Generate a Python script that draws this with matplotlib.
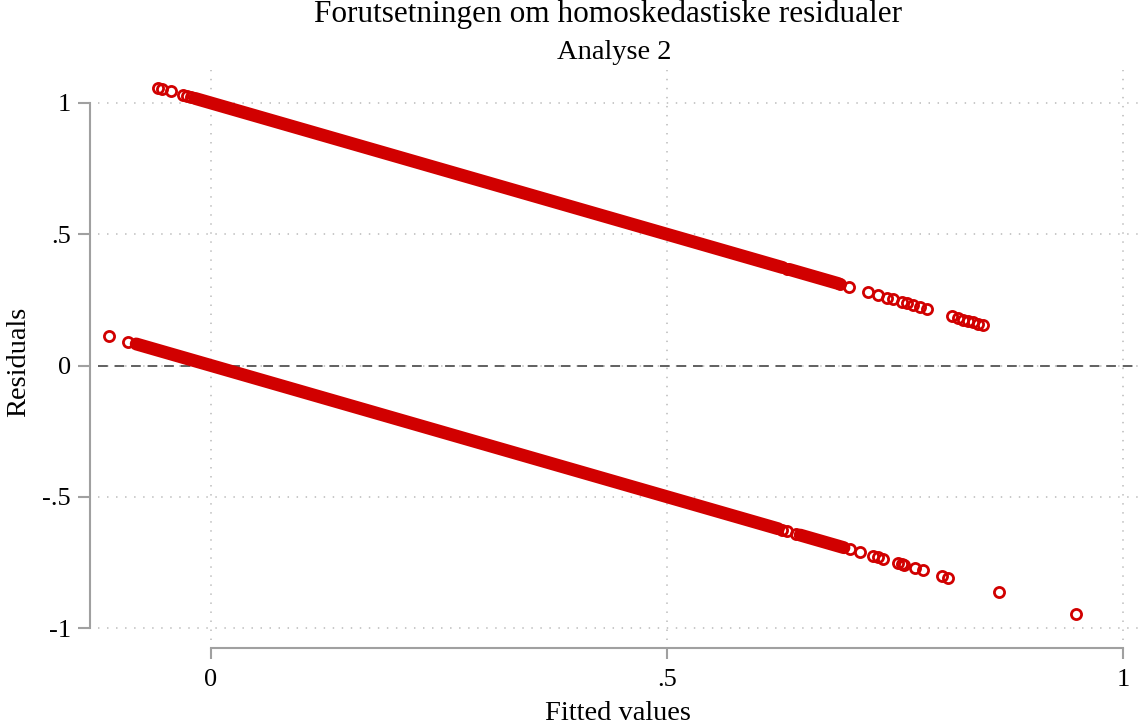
import matplotlib
matplotlib.use("Agg")
import matplotlib.pyplot as plt

plt.rcParams['font.family'] = ['Liberation Serif', 'DejaVu Serif']

# Fitted values for observations with outcome = 1 (residual = 1 - fitted)
ones_points = [-0.058, -0.054, -0.044, -0.031, -0.026, -0.022,
               0.632, 0.690, 0.6996,
               0.720, 0.731, 0.741, 0.748, 0.758, 0.763, 0.770, 0.777, 0.785,
               0.8125, 0.819, 0.825, 0.830, 0.836, 0.841, 0.846]
# Ranges of fitted values where observations with outcome = 1 overlap into a solid band
ones_bands = [(-0.0175, 0.627), (0.634, 0.688)]

# Fitted values for observations with outcome = 0 (residual = -fitted)
zeros_points = [-0.112, -0.091,
                0.626, 0.632, 0.641,
                0.7007, 0.7116, 0.7259, 0.7314, 0.7368, 0.7533, 0.7577, 0.7599,
                0.772, 0.7807, 0.8015, 0.8081, 0.864, 0.9485]
zeros_bands = [(-0.082, 0.622), (0.646, 0.694)]

x_ticks = [0, 0.5, 1]
x_ticklabels = ['0', '.5', '1']
y_ticks = [-1, -0.5, 0, 0.5, 1]
y_ticklabels = ['-1', '-.5', '0', '.5', '1']

title = 'Forutsetningen om homoskedastiske residualer'
subtitle = 'Analyse 2'
xlabel = 'Fitted values'
ylabel = 'Residuals'

RED = '#d10000'
AXIS_GRAY = '#a0a0a0'
W, H = 1139, 728

fig = plt.figure(figsize=(W / 100, H / 100), dpi=100)
ax = fig.add_axes([98 / W, (H - 640) / H, (W - 98) / W, (640 - 70) / H])
ax.set_xlim(-0.1239, 1.0175)
ax.set_ylim(-1.0457, 1.1257)

for side in ('top', 'right'):
    ax.spines[side].set_visible(False)
ax.spines['left'].set_position(('outward', 6))
ax.spines['left'].set_bounds(-1, 1)
ax.spines['bottom'].set_position(('outward', 6))
ax.spines['bottom'].set_bounds(0, 1)
for side in ('left', 'bottom'):
    ax.spines[side].set_color(AXIS_GRAY)
    ax.spines[side].set_linewidth(1.5)

ax.set_xticks(x_ticks)
ax.set_xticklabels(x_ticklabels)
ax.set_yticks(y_ticks)
ax.set_yticklabels(y_ticklabels)
ax.tick_params(axis='y', length=8.6, width=1.5, color=AXIS_GRAY, pad=5, labelsize=19)
ax.tick_params(axis='x', length=8, width=1.5, color=AXIS_GRAY, pad=7, labelsize=19)

ax.set_axisbelow(True)
ax.grid(True, color='#c4c4c4', linestyle=(0, (0.8, 4.2)), linewidth=1.3)
ax.axhline(0, color='#606060', lw=1.4, linestyle=(0, (5, 3.5)), zorder=1.5)

# Solid bands of overlapping hollow markers
for a, b in ones_bands:
    ax.plot([a, b], [1 - a, 1 - b], color=RED, lw=9.3, solid_capstyle='round', zorder=3)
for a, b in zeros_bands:
    ax.plot([a, b], [0 - a, 0 - b], color=RED, lw=9.3, solid_capstyle='round', zorder=3)

# Individual observations
ax.plot(ones_points, [1 - f for f in ones_points], 'o', mfc='none', mec=RED,
        ms=7.3, mew=2.0, zorder=4)
ax.plot(zeros_points, [0 - f for f in zeros_points], 'o', mfc='none', mec=RED,
        ms=7.3, mew=2.0, zorder=4)

fig.text(608.5 / W, 1 - 22 / H, title, ha='center', va='baseline', fontsize=22.5)
fig.text(614.5 / W, 1 - 59 / H, subtitle, ha='center', va='baseline', fontsize=20.5)
fig.text(617.5 / W, 1 - 720 / H, xlabel, ha='center', va='baseline', fontsize=20.5)
fig.text(19 / W, 1 - 362 / H, ylabel, ha='center', va='center', rotation=90, fontsize=20.5)

fig.savefig('out.png', dpi=100)
